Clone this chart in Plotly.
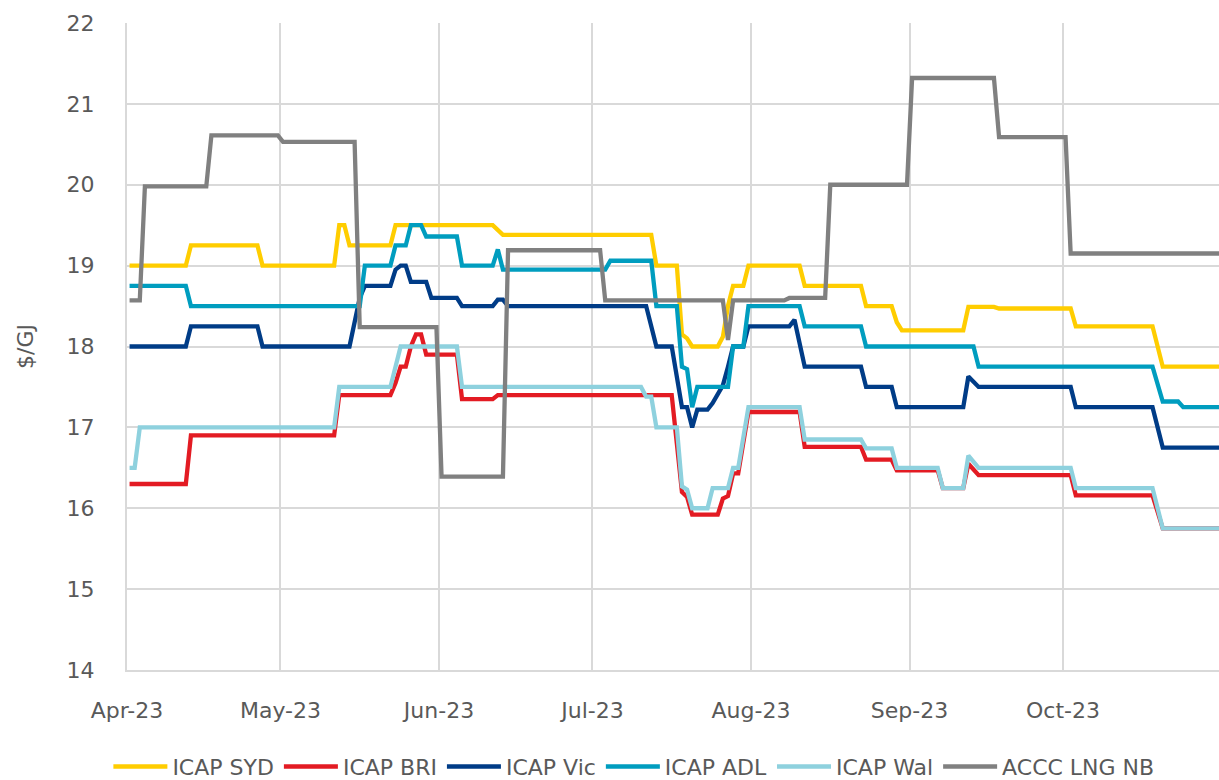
import plotly.graph_objects as go
import pandas as pd

# ---------------- data ----------------
x_tick_dates = ["2023-04-01", "2023-05-01", "2023-06-01", "2023-07-01",
                "2023-08-01", "2023-09-01", "2023-10-01"]
x_tick_labels = ["Apr-23", "May-23", "Jun-23", "Jul-23", "Aug-23", "Sep-23", "Oct-23"]
y_title = "$/GJ"

syd_dates = ["2023-04-01", "2023-04-12", "2023-04-13", "2023-04-26", "2023-04-27",
             "2023-05-11", "2023-05-12", "2023-05-13", "2023-05-14", "2023-05-22",
             "2023-05-23", "2023-06-11", "2023-06-13", "2023-07-12", "2023-07-13",
             "2023-07-17", "2023-07-18", "2023-07-19", "2023-07-20", "2023-07-25",
             "2023-07-26", "2023-07-27", "2023-07-28", "2023-07-30", "2023-07-31",
             "2023-08-10", "2023-08-11", "2023-08-22", "2023-08-23", "2023-08-28",
             "2023-08-29", "2023-08-30", "2023-09-11", "2023-09-12", "2023-09-17",
             "2023-09-18", "2023-10-02", "2023-10-03", "2023-10-18", "2023-10-19",
             "2023-10-20", "2023-10-31"]
syd_vals = [19.0, 19.0, 19.25, 19.25, 19.0,
            19.0, 19.5, 19.5, 19.25, 19.25,
            19.5, 19.5, 19.38, 19.38, 19.0,
            19.0, 18.15, 18.1, 18.0, 18.0,
            18.12, 18.5, 18.75, 18.75, 19.0,
            19.0, 18.75, 18.75, 18.5, 18.5,
            18.3, 18.2, 18.2, 18.49, 18.49,
            18.47, 18.47, 18.25, 18.25, 18.0,
            17.75, 17.75]

bri_dates = ["2023-04-01", "2023-04-12", "2023-04-13", "2023-05-11", "2023-05-12",
             "2023-05-22", "2023-05-23", "2023-05-24", "2023-05-25", "2023-05-26",
             "2023-05-27", "2023-05-28", "2023-05-29", "2023-06-04", "2023-06-05",
             "2023-06-11", "2023-06-12", "2023-07-16", "2023-07-17", "2023-07-18",
             "2023-07-19", "2023-07-20", "2023-07-25", "2023-07-26", "2023-07-27",
             "2023-07-28", "2023-07-29", "2023-07-30", "2023-07-31", "2023-08-10",
             "2023-08-11", "2023-08-22", "2023-08-23", "2023-08-28", "2023-08-29",
             "2023-09-06", "2023-09-07", "2023-09-11", "2023-09-12", "2023-09-14",
             "2023-10-02", "2023-10-03", "2023-10-18", "2023-10-20", "2023-10-31"]
bri_vals = [16.3, 16.3, 16.9, 16.9, 17.4,
            17.4, 17.55, 17.75, 17.75, 18.0,
            18.15, 18.15, 17.9, 17.9, 17.35,
            17.35, 17.4, 17.4, 16.8, 16.2,
            16.14, 15.92, 15.92, 16.12, 16.15,
            16.43, 16.43, 16.8, 17.19, 17.19,
            16.76, 16.76, 16.6, 16.6, 16.47,
            16.47, 16.25, 16.25, 16.55, 16.41,
            16.41, 16.16, 16.16, 15.75, 15.75]

vic_dates = ["2023-04-01", "2023-04-12", "2023-04-13", "2023-04-26", "2023-04-27",
             "2023-05-14", "2023-05-16", "2023-05-17", "2023-05-22", "2023-05-23",
             "2023-05-24", "2023-05-25", "2023-05-26", "2023-05-29", "2023-05-30",
             "2023-06-04", "2023-06-05", "2023-06-11", "2023-06-12", "2023-06-13",
             "2023-06-14", "2023-07-11", "2023-07-12", "2023-07-13", "2023-07-16",
             "2023-07-17", "2023-07-18", "2023-07-19", "2023-07-20", "2023-07-21",
             "2023-07-23", "2023-07-24", "2023-07-25", "2023-07-26", "2023-07-27",
             "2023-07-28", "2023-07-30", "2023-07-31", "2023-08-08", "2023-08-09",
             "2023-08-11", "2023-08-22", "2023-08-23", "2023-08-28", "2023-08-29",
             "2023-09-11", "2023-09-12", "2023-09-14", "2023-10-02", "2023-10-03",
             "2023-10-18", "2023-10-20", "2023-10-31"]
vic_vals = [18.0, 18.0, 18.25, 18.25, 18.0,
            18.0, 18.6, 18.75, 18.75, 18.95,
            19.0, 19.0, 18.8, 18.8, 18.6,
            18.6, 18.5, 18.5, 18.58, 18.58,
            18.5, 18.5, 18.25, 18.0, 18.0,
            17.6, 17.25, 17.25, 17.0, 17.22,
            17.22, 17.3, 17.4, 17.52, 17.75,
            18.0, 18.0, 18.25, 18.25, 18.33,
            17.75, 17.75, 17.5, 17.5, 17.25,
            17.25, 17.63, 17.5, 17.5, 17.25,
            17.25, 16.75, 16.75]

adl_dates = ["2023-04-01", "2023-04-12", "2023-04-13", "2023-05-16", "2023-05-17",
             "2023-05-22", "2023-05-23", "2023-05-25", "2023-05-26", "2023-05-28",
             "2023-05-29", "2023-06-04", "2023-06-05", "2023-06-11", "2023-06-12",
             "2023-06-13", "2023-07-03", "2023-07-04", "2023-07-12", "2023-07-13",
             "2023-07-17", "2023-07-18", "2023-07-19", "2023-07-20", "2023-07-21",
             "2023-07-27", "2023-07-28", "2023-07-30", "2023-07-31", "2023-08-10",
             "2023-08-11", "2023-08-22", "2023-08-23", "2023-09-13", "2023-09-14",
             "2023-10-18", "2023-10-20", "2023-10-23", "2023-10-24", "2023-10-31"]
adl_vals = [18.75, 18.75, 18.5, 18.5, 19.0,
            19.0, 19.25, 19.25, 19.5, 19.5,
            19.36, 19.36, 19.0, 19.0, 19.2,
            18.95, 18.95, 19.06, 19.06, 18.5,
            18.5, 17.75, 17.72, 17.25, 17.5,
            17.5, 18.0, 18.0, 18.5, 18.5,
            18.25, 18.25, 18.0, 18.0, 17.75,
            17.75, 17.32, 17.32, 17.25, 17.25]

wal_dates = ["2023-04-01", "2023-04-02", "2023-04-03", "2023-05-11", "2023-05-12",
             "2023-05-22", "2023-05-23", "2023-05-24", "2023-06-04", "2023-06-05",
             "2023-07-10", "2023-07-11", "2023-07-12", "2023-07-13", "2023-07-17",
             "2023-07-18", "2023-07-19", "2023-07-20", "2023-07-23", "2023-07-24",
             "2023-07-27", "2023-07-28", "2023-07-29", "2023-07-30", "2023-07-31",
             "2023-08-10", "2023-08-11", "2023-08-22", "2023-08-23", "2023-08-28",
             "2023-08-29", "2023-09-06", "2023-09-07", "2023-09-11", "2023-09-12",
             "2023-09-14", "2023-10-02", "2023-10-03", "2023-10-18", "2023-10-20",
             "2023-10-31"]
wal_vals = [16.5, 16.5, 17.0, 17.0, 17.5,
            17.5, 17.75, 18.0, 18.0, 17.5,
            17.5, 17.38, 17.38, 17.0, 17.0,
            16.27, 16.23, 16.0, 16.0, 16.25,
            16.25, 16.5, 16.5, 16.9, 17.25,
            17.25, 16.85, 16.85, 16.74, 16.74,
            16.5, 16.5, 16.25, 16.25, 16.65,
            16.5, 16.5, 16.25, 16.25, 15.75,
            15.75]

lng_dates = ["2023-04-01", "2023-04-03", "2023-04-04", "2023-04-16", "2023-04-17",
             "2023-04-30", "2023-05-01", "2023-05-15", "2023-05-16", "2023-05-31",
             "2023-06-01", "2023-06-13", "2023-06-14", "2023-07-02", "2023-07-03",
             "2023-07-26", "2023-07-27", "2023-07-28", "2023-08-07", "2023-08-08",
             "2023-08-15", "2023-08-16", "2023-08-31", "2023-09-01", "2023-09-17",
             "2023-09-18", "2023-10-01", "2023-10-02", "2023-10-31"]
lng_vals = [18.57, 18.57, 19.98, 19.98, 20.61,
            20.61, 20.53, 20.53, 18.24, 18.24,
            16.39, 16.39, 19.19, 19.19, 18.57,
            18.57, 18.08, 18.57, 18.57, 18.6,
            18.6, 20.0, 20.0, 21.32, 21.32,
            20.59, 20.59, 19.15, 19.15]

series_names = ["ICAP SYD", "ICAP BRI", "ICAP Vic", "ICAP ADL", "ICAP Wal", "ACCC LNG NB"]
series_dates = [syd_dates, bri_dates, vic_dates, adl_dates, wal_dates, lng_dates]
series_vals = [syd_vals, bri_vals, vic_vals, adl_vals, wal_vals, lng_vals]
series_colors = ["#FFCD00", "#E31B23", "#003C87", "#009DBF", "#8ED1DE", "#808080"]

# ---------------- figure ----------------
fig = go.Figure()
half_day = pd.Timedelta(hours=12)  # points sit in the middle of each day slot
for name, d, v, c in zip(series_names, series_dates, series_vals, series_colors):
    fig.add_trace(go.Scatter(
        x=pd.to_datetime(d) + half_day, y=v, name=name, mode="lines",
        line=dict(color=c, width=4.3),
    ))

grid = "#D9D9D9"
txt = "#595959"
fam = "DejaVu Sans"
fig.update_layout(
    width=1219, height=780,
    margin=dict(l=127, r=0, t=23, b=110, autoexpand=False),
    plot_bgcolor="white", paper_bgcolor="white",
    font=dict(family=fam, color=txt, size=22),
    showlegend=True,
    legend=dict(orientation="h", xref="container", yref="container",
                x=0.52, xanchor="center", y=0.044, yanchor="top",
                font=dict(family=fam, size=22, color=txt), itemwidth=54,
                traceorder="normal", bgcolor="rgba(0,0,0,0)"),
    annotations=[dict(text=y_title, textangle=-90, xref="paper", yref="paper",
                      x=-0.093, y=0.5, xanchor="center", yanchor="middle",
                      showarrow=False, font=dict(family=fam, size=22, color=txt))],
)
fig.update_xaxes(
    type="date", automargin=False,
    range=[pd.Timestamp("2023-04-01"), pd.Timestamp("2023-10-31 12:00")],
    tickmode="array", tickvals=x_tick_dates, ticktext=x_tick_labels,
    showgrid=True, gridcolor=grid, gridwidth=1.5,
    showline=True, linecolor=grid, linewidth=2,
    ticks="", ticklabelstandoff=20, zeroline=False,
    tickfont=dict(family=fam, size=22, color=txt),
)
fig.update_yaxes(
    automargin=False,
    range=[14, 22], dtick=1, tick0=14,
    showgrid=True, gridcolor=grid, gridwidth=1.5,
    showline=True, linecolor=grid, linewidth=2,
    ticks="outside", ticklen=26, tickcolor="rgba(0,0,0,0)",
    zeroline=False,
    tickfont=dict(family=fam, size=22, color=txt),
)

# remove the default 8px page margin so the figure fills the 1219x780 window exactly
fig.write_html("out.html", config={"displayModeBar": False},
               post_script="document.body.style.margin='0px';")
